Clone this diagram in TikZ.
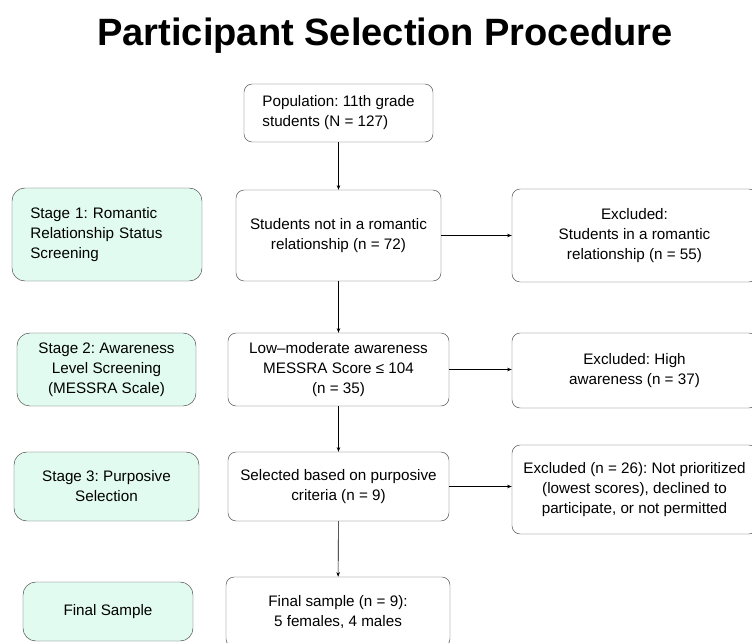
\documentclass[tikz,border=0pt]{standalone}
\usepackage{fontspec}
\setmainfont{Liberation Sans}
\usetikzlibrary{arrows.meta,positioning}
\definecolor{mintfill}{HTML}{E2FBF0}
\definecolor{boxline}{HTML}{4A4A4A}
\frenchspacing

\begin{document}
\begin{tikzpicture}[x=0.03cm, y=-0.03cm,
    every node/.style={font=\fontsize{13}{17}\selectfont},
    flowbox/.style={draw=boxline, rounded corners=7pt, fill=white, align=center, inner sep=2pt},
    stagebox/.style={draw=boxline, rounded corners=11pt, fill=mintfill, align=center, inner sep=2pt},
    link/.style={-{Stealth[length=4pt,width=3pt]}, draw=black, line width=0.5pt}]
   \useasboundingbox (0,0) rectangle (752,643);

   \node[font=\fontsize{32.5}{38}\selectfont\bfseries] (title) at (385,36) {Participant Selection Procedure};

   % middle column
   \node[flowbox, align=left, minimum width=5.67cm, minimum height=1.74cm] (pop) at (338.5,113) {Population: 11th grade\\students (N = 127)};
   \node[flowbox, minimum width=6.15cm, minimum height=2.73cm] (single) at (338.5,235.5) {Students not in a romantic\\relationship (n = 72)};
   \node[flowbox, minimum width=6.63cm, minimum height=2.19cm] (low) at (338.5,369.5) {Low--moderate awareness\\MESSRA Score ≤ 104\\(n = 35)};
   \node[flowbox, minimum width=6.63cm, minimum height=2.07cm] (select) at (338.5,486.5) {Selected based on purposive\\criteria (n = 9)};
   \node[flowbox, minimum width=6.72cm, minimum height=2.10cm] (final) at (338,612) {Final sample (n = 9):\\5 females, 4 males};

   % right column
   \node[flowbox, minimum width=7.35cm, minimum height=2.79cm] (exrel) at (634.5,235.5) {Excluded:\\Students in a romantic\\relationship (n = 55)};
   \node[flowbox, minimum width=7.35cm, minimum height=2.25cm] (exhigh) at (634.5,370.5) {Excluded: High\\awareness (n = 37)};
   \node[flowbox, minimum width=7.35cm, minimum height=2.67cm] (exrest) at (634.5,489.5) {Excluded (n = 26): Not prioritized\\(lowest scores), declined to\\participate, or not permitted};

   % stage labels
   \node[stagebox, align=left, minimum width=5.70cm, minimum height=2.79cm, text width=4.6cm] (stage1) at (107,234.5) {Stage 1: Romantic\\Relationship Status\\Screening};
   \node[stagebox, minimum width=5.37cm, minimum height=2.19cm] (stage2) at (106.5,369.5) {Stage 2: Awareness\\Level Screening\\(MESSRA Scale)};
   \node[stagebox, minimum width=5.55cm, minimum height=2.07cm] (stage3) at (106.5,486.5) {Stage 3: Purposive\\Selection};
   \node[stagebox, minimum width=5.10cm, minimum height=1.77cm] (stage4) at (108,611.5) {Final Sample};

   \path[link]
     (pop) edge (single)
     (single) edge (low)
     (low) edge (select)
     (select) edge (final)
     (single) edge (single -| exrel.west)
     (low) edge (low -| exhigh.west)
     (select) edge (select -| exrest.west);
\end{tikzpicture}
\end{document}
